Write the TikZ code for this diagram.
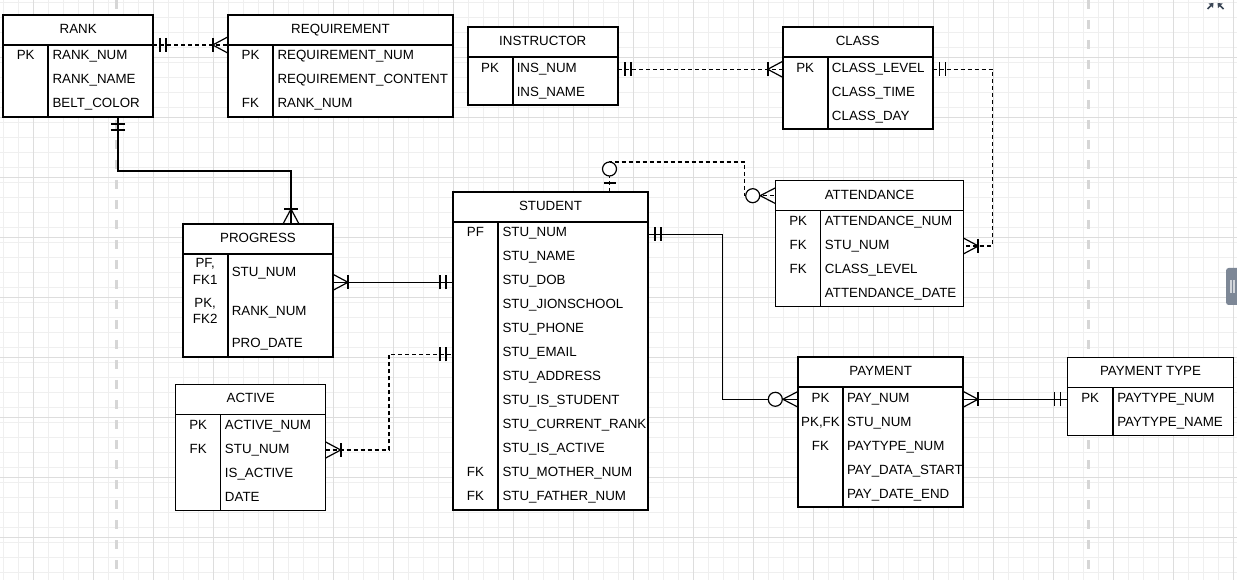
\documentclass[tikz,border=0pt]{standalone}
\usepackage{fontspec}
\setmainfont{Liberation Sans}
\usetikzlibrary{calc}
\definecolor{gridminor}{HTML}{EFEFEF}
\definecolor{gridmajor}{HTML}{DDDDDD}
\definecolor{pageline}{HTML}{D6D6D6}
\definecolor{uigray}{HTML}{7D8796}
\definecolor{uidark}{HTML}{3B4656}

% ER end markers, drawn from the entity side outwards along +x
\tikzset{
  pics/mandone/.style={code={
    \draw[solid,line width=1.4pt] (7,-7) -- (7,7) (13,-7) -- (13,7);}},
  pics/onemany/.style={code={
    \draw[solid,line width=0.9pt] (0,-8) -- (15,0) -- (0,8);
    \draw[solid,line width=1.4pt] (15,-7) -- (15,7);}},
  pics/zeromany/.style={code={
    \draw[solid,line width=0.9pt] (0,-8) -- (15.5,0) -- (0,8);
    \draw[solid,line width=0.9pt,fill=white] (23,0) circle[radius=7];}},
  pics/zeroone/.style={code={
    \draw[solid,line width=1pt] (9,-6) -- (9,6);
    \draw[solid,line width=0.9pt,fill=white] (23,0) circle[radius=7];}},
}

\begin{document}
\begin{tikzpicture}[x=0.75pt,y=-0.75pt,font=\fontsize{10pt}{12.5pt}\selectfont,
  ent/.style={draw,fill=white,line width=1.5pt,inner sep=0pt,outer sep=0pt,anchor=north west,
    text height=7.2pt,text depth=2pt},
  lightent/.style={line width=0.8pt},
  mident/.style={line width=1.1pt},
  boxsize/.style 2 args={minimum width=#1*0.75pt,minimum height=#2*0.75pt},
  fld/.style={anchor=west,inner sep=0pt,text height=7.2pt,text depth=0pt},
  key/.style={inner sep=0pt,text height=7.2pt,text depth=0pt},
  keytwo/.style={inner sep=0pt,align=center},
  conn/.style={line width=0.8pt},
  dconn/.style={line width=1pt,dash pattern=on 3pt off 2.25pt}]

  \useasboundingbox (0,0) rectangle (1237,580);
  \fill[white] (0,0) rectangle (1237,580);

  % grid and page breaks
  \foreach \gx in {3.3,18.3,...,1237} \draw[gridminor,line width=0.75pt] (\gx,0) -- (\gx,580);
  \foreach \gy in {2.7,17.7,...,580} \draw[gridminor,line width=0.75pt] (0,\gy) -- (1237,\gy);
  \foreach \gx in {33.3,93.3,...,1237} \draw[gridmajor,line width=0.75pt] (\gx,0) -- (\gx,580);
  \foreach \gy in {57.7,117.7,...,580} \draw[gridmajor,line width=0.75pt] (0,\gy) -- (1237,\gy);
  \foreach \gx in {116.7,1088.3}
    \draw[pageline,line width=1.9pt,dash pattern=on 6.75pt off 8.25pt] (\gx,0) -- (\gx,580);

  % RANK
  \node[ent,boxsize={150.3}{30}] (rank) at (3,15) {RANK};
  \node[ent,boxsize={150.3}{72}] (rank-body) at (rank.south west) {};
  \draw[line width=1.5pt] (rank-body.north west) ++(45.3,0) -- ++(0,72);
  \node[key] at (25.7,55) {PK};
  \node[fld] (rank-num) at (52.3,55) {RANK\_NUM};
  \node[fld] (rank-name) at (52.3,79) {RANK\_NAME};
  \node[fld] (belt-color) at (52.3,103) {BELT\_COLOR};

  % REQUIREMENT
  \node[ent,boxsize={225.6}{30}] (requirement) at (227.7,15) {REQUIREMENT};
  \node[ent,boxsize={225.6}{72}] (requirement-body) at (requirement.south west) {};
  \draw[line width=1.5pt] (requirement-body.north west) ++(45.6,0) -- ++(0,72);
  \node[key] at (250.5,55) {PK};
  \node[key] at (250.5,103) {FK};
  \node[fld] (req-num) at (277.3,55) {REQUIREMENT\_NUM};
  \node[fld] (req-content) at (277.3,79) {REQUIREMENT\_CONTENT};
  \node[fld] (req-rank) at (277.3,103) {RANK\_NUM};

  % INSTRUCTOR
  \node[ent,boxsize={150.5}{30}] (instructor) at (467.5,27.3) {INSTRUCTOR};
  \node[ent,boxsize={150.5}{48}] (instructor-body) at (instructor.south west) {};
  \draw[line width=1.5pt] (instructor-body.north west) ++(45,0) -- ++(0,48);
  \node[key] at (490,67.3) {PK};
  \node[fld] (ins-num) at (516.5,67.3) {INS\_NUM};
  \node[fld] (ins-name) at (516.5,91.3) {INS\_NAME};

  % CLASS
  \node[ent,boxsize={149.8}{30}] (class) at (782.7,27.3) {CLASS};
  \node[ent,boxsize={149.8}{72}] (class-body) at (class.south west) {};
  \draw[line width=1.5pt] (class-body.north west) ++(45,0) -- ++(0,72);
  \node[key] at (805.2,67.3) {PK};
  \node[fld] (class-level) at (831.7,67.3) {CLASS\_LEVEL};
  \node[fld] (class-time) at (831.7,91.3) {CLASS\_TIME};
  \node[fld] (class-day) at (831.7,115.3) {CLASS\_DAY};

  % ATTENDANCE
  \node[ent,mident,boxsize={187.6}{30}] (attendance) at (775.7,180.7) {ATTENDANCE};
  \node[ent,mident,boxsize={187.6}{96}] (attendance-body) at (attendance.south west) {};
  \draw[line width=1.1pt] (attendance-body.north west) ++(45,0) -- ++(0,96);
  \node[key] at (798.2,220.7) {PK};
  \node[key] at (798.2,244.7) {FK};
  \node[key] at (798.2,268.7) {FK};
  \node[fld] (att-num) at (824.7,220.7) {ATTENDANCE\_NUM};
  \node[fld] (att-stu) at (824.7,244.7) {STU\_NUM};
  \node[fld] (att-class) at (824.7,268.7) {CLASS\_LEVEL};
  \node[fld] (att-date) at (824.7,292.7) {ATTENDANCE\_DATE};

  % STUDENT
  \node[ent,boxsize={195.6}{30}] (student) at (452.7,192) {STUDENT};
  \node[ent,boxsize={195.6}{288}] (student-body) at (student.south west) {};
  \draw[line width=1.5pt] (student-body.north west) ++(45.6,0) -- ++(0,288);
  \node[key] at (475.5,232) {PF};
  \node[key] at (475.5,472) {FK};
  \node[key] at (475.5,496) {FK};
  \foreach \fname [count=\i from 0] in {STU\_NUM,STU\_NAME,STU\_DOB,STU\_JIONSCHOOL,
      STU\_PHONE,STU\_EMAIL,STU\_ADDRESS,STU\_IS\_STUDENT,STU\_CURRENT\_RANK,
      STU\_IS\_ACTIVE,STU\_MOTHER\_NUM,STU\_FATHER\_NUM}
    \node[fld] (stu-\i) at (502.3,232+24*\i) {\fname};

  % PROGRESS
  \node[ent,boxsize={150}{30}] (progress) at (183,224) {PROGRESS};
  \node[ent,boxsize={150}{103.3}] (progress-body) at (progress.south west) {};
  \draw[line width=1.5pt] (progress-body.north west) ++(44.5,0) -- ++(0,103.3);
  \node[keytwo] at (205.2,271.7) {PF,\\FK1};
  \node[keytwo] at (205.2,311) {PK,\\FK2};
  \node[fld] (pro-stu) at (231.5,271.7) {STU\_NUM};
  \node[fld] (pro-rank) at (231.5,311) {RANK\_NUM};
  \node[fld] (pro-date) at (231.5,342.7) {PRO\_DATE};

  % ACTIVE
  \node[ent,lightent,boxsize={150}{30}] (active) at (175.7,384.3) {ACTIVE};
  \node[ent,lightent,boxsize={150}{96}] (active-body) at (active.south west) {};
  \draw[line width=0.8pt] (active-body.north west) ++(45,0) -- ++(0,96);
  \node[key] at (198.2,424.3) {PK};
  \node[key] at (198.2,448.3) {FK};
  \node[fld] (act-num) at (224.7,424.3) {ACTIVE\_NUM};
  \node[fld] (act-stu) at (224.7,448.3) {STU\_NUM};
  \node[fld] (act-flag) at (224.7,472.3) {IS\_ACTIVE};
  \node[fld] (act-date) at (224.7,496.3) {DATE};

  % PAYMENT
  \node[ent,boxsize={164.7}{30}] (payment) at (798.3,357.3) {PAYMENT};
  \node[ent,boxsize={164.7}{120}] (payment-body) at (payment.south west) {};
  \draw[line width=1.5pt] (payment-body.north west) ++(44.5,0) -- ++(0,120);
  \node[key] at (820.5,397.3) {PK};
  \node[key] at (820.5,421.3) {PK,FK};
  \node[key] at (820.5,445.3) {FK};
  \node[fld] (pay-num) at (846.8,397.3) {PAY\_NUM};
  \node[fld] (pay-stu) at (846.8,421.3) {STU\_NUM};
  \node[fld] (pay-type) at (846.8,445.3) {PAYTYPE\_NUM};
  \node[fld] (pay-start) at (846.8,469.3) {PAY\_DATA\_START};
  \node[fld] (pay-end) at (846.8,493.3) {PAY\_DATE\_END};

  % PAYMENT TYPE
  \node[ent,lightent,boxsize={166}{30}] (paytype) at (1067.5,357.3) {PAYMENT TYPE};
  \node[ent,lightent,boxsize={166}{48}] (paytype-body) at (paytype.south west) {};
  \draw[line width=0.8pt] (paytype-body.north west) ++(45.5,0) -- ++(0,48);
  \node[key] at (1090.2,397.3) {PK};
  \node[fld] (pt-num) at (1117,397.3) {PAYTYPE\_NUM};
  \node[fld] (pt-name) at (1117,421.3) {PAYTYPE\_NAME};

  % relationships
  \draw[dconn] (rank.south east) -- (requirement.south west);
  \draw[dconn] (instructor-body.east |- 0,69.3) -- (class-body.west |- 0,69.3);
  \draw[dconn] (class-body.east |- 0,69.3) -- ++(60,0) |- (attendance-body.east |- 0,246);
  \draw[dconn] (student.north -| 609.5,0) -- ++(0,-30)
    -| ($(attendance.west)+(-31,0)$) -- (attendance.west);
  \draw[conn] (progress-body.east |- 0,282.3) -- (student-body.west |- 0,282.3);
  \draw[dconn] (active-body.east |- 0,450) -- ++(63.3,0) |- (student-body.west |- 0,354.3);
  \draw[conn] (student-body.east |- 0,234.3) -- ++(74,0) |- (payment-body.west |- 0,399.3);
  \draw[conn] (payment-body.east |- 0,399.3) -- (paytype-body.west |- 0,399.3);
  \draw[line width=1.5pt] (rank-body.south -| 118,0) -- ++(0,54) -| (progress.north -| 291,0);

  \pic at (rank.south east) {mandone};
  \pic[rotate=180] at (requirement.south west) {onemany};
  \pic at (instructor-body.east |- 0,69.3) {mandone};
  \pic[rotate=180] at (class-body.west |- 0,69.3) {onemany};
  \pic at (class-body.east |- 0,69.3) {mandone};
  \pic at (attendance-body.east |- 0,246) {onemany};
  \pic[rotate=90] at (student.north -| 609.5,0) {zeroone};
  \pic[rotate=180] at (attendance.west) {zeromany};
  \pic at (progress-body.east |- 0,282.3) {onemany};
  \pic[rotate=180] at (student-body.west |- 0,282.3) {mandone};
  \pic at (active-body.east |- 0,450) {onemany};
  \pic[rotate=180] at (student-body.west |- 0,354.3) {mandone};
  \pic at (student-body.east |- 0,234.3) {mandone};
  \pic[rotate=180] at (payment-body.west |- 0,399.3) {zeromany};
  \pic at (payment-body.east |- 0,399.3) {onemany};
  \pic[rotate=180] at (paytype-body.west |- 0,399.3) {mandone};
  \pic[rotate=-90] at (rank-body.south -| 118,0) {mandone};
  \pic[rotate=90] at (progress.north -| 291,0) {onemany};

  % editor handles
  \fill[uigray,rounded corners=2pt] (1226,268) rectangle (1242,305);
  \draw[white!65!uigray,line width=1pt] (1231,280) -- (1231,293) (1234,280) -- (1234,293);
  \draw[uidark,line width=1.2pt] (1207.5,9) -- (1212,4.5) (1223.5,9) -- (1219,4.5);
  \fill[uidark] (1213.5,3) -- (1208.5,3.5) -- (1213,8) -- cycle
    (1217.5,3) -- (1222.5,3.5) -- (1218,8) -- cycle;
\end{tikzpicture}
\end{document}
